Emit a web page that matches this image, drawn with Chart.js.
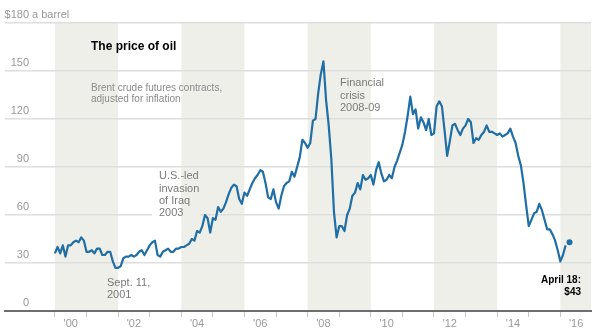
<!DOCTYPE html>
<html>
<head>
<meta charset="utf-8">
<script src="https://cdn.jsdelivr.net/npm/chart.js@4.4.1/dist/chart.umd.min.js"></script>
<style>
    html, body { margin: 0; padding: 0; background: #fff; }
    #wrap { width: 596px; height: 332px; position: relative; }
</style>
</head>
<body>
<div id="wrap"><canvas id="oilChart"></canvas></div>
<script>
// monthly Brent price, inflation adjusted, Jan 2000 .. Mar 2016
var startYear = 2000;
var prices = [
    36, 40, 36, 41, 34, 41, 41, 43, 44, 43, 46, 44,
    37, 37, 38, 36, 39, 39, 35, 35, 37, 37, 31, 27,
    27, 28, 33, 34, 34, 35, 34, 35, 37, 38, 35, 38,
    41, 43, 44, 35, 34, 37, 38, 39, 37, 37, 39, 39,
    40, 40, 41, 42, 45, 44, 50, 49, 53, 60, 58, 49,
    58, 57, 65, 62, 64, 68, 73, 77, 79, 78, 70, 67,
    74, 72, 76, 80, 83, 85, 88, 87, 80, 71, 70, 76,
    68, 64, 72, 78, 80, 81, 87, 84, 90, 96, 107, 105,
    102, 105, 119, 120, 136, 148, 156, 132, 116, 95, 62, 46,
    53, 53, 50, 60, 64, 72, 74, 80, 76, 85, 82, 83,
    85, 79, 88, 93, 86, 81, 82, 85, 83, 90, 94, 99,
    104, 112, 122, 134, 123, 126, 114, 121, 118, 113, 120, 110,
    111, 128, 131, 128, 113, 97, 106, 116, 117, 113, 110, 114,
    116, 120, 118, 105, 108, 107, 110, 112, 116, 112, 112, 111,
    110, 111, 109, 110, 111, 114, 109, 105, 97, 91, 80, 66,
    53, 57, 61, 62, 67, 63, 57, 51, 51, 48, 44, 38,
    31, 35, 41
];
var lastDate = 2016.29;
var lastPrice = 43;
var yTicks = [0, 30, 60, 90, 120, 150, 180];
var yearTicks = [2000, 2001, 2002, 2003, 2004, 2005, 2006, 2007, 2008, 2009, 2010, 2011, 2012, 2013, 2014, 2015, 2016];
var shadedYears = [[2000, 2002], [2004, 2006], [2008, 2010], [2012, 2014], [2016, 2017]];

var points = prices.map(function (v, i) {
    return {x: startYear + i / 12, y: v};
});

var font = '"Liberation Sans", Arial, Helvetica, sans-serif';

var bandsPlugin = {
    id: 'bands',
    beforeDraw: function (chart) {
        var ctx = chart.ctx;
        var xs = chart.scales.x;
        var area = chart.chartArea;
        ctx.save();
        ctx.fillStyle = '#efefea';
        shadedYears.forEach(function (b) {
            var x0 = xs.getPixelForValue(b[0]);
            var x1 = Math.min(xs.getPixelForValue(b[1]), area.right);
            ctx.fillRect(x0, area.top, x1 - x0, area.bottom - area.top);
        });
        ctx.restore();
    },
    beforeDatasetsDraw: function (chart) {
        var ctx = chart.ctx;
        var xs = chart.scales.x;
        var band = xs.getPixelForValue(2004);
        ctx.save();
        // box behind the Iraq note
        ctx.fillStyle = '#fff';
        ctx.fillRect(152, 169, band - 152, 50);
        ctx.fillStyle = '#efefea';
        ctx.fillRect(band, 169, 200 - band, 50);

        ctx.textBaseline = 'middle';
        ctx.textAlign = 'left';
        ctx.fillStyle = '#000';
        ctx.font = 'bold 12px ' + font;
        ctx.fillText('The price of oil', 91, 47);

        ctx.fillStyle = '#8a8a8a';
        ctx.font = '10px ' + font;
        ctx.fillText('Brent crude futures contracts,', 91, 88);
        ctx.fillText('adjusted for inflation', 91, 99);

        ctx.fillStyle = '#7a7a7a';
        ctx.font = '11px ' + font;
        ctx.fillText('Financial', 340, 83);
        ctx.fillText('crisis', 340, 95.5);
        ctx.fillText('2008-09', 340, 108);

        ctx.fillText('U.S.-led', 159, 176);
        ctx.fillText('invasion', 159, 188.5);
        ctx.fillText('of Iraq', 159, 200.5);
        ctx.fillText('2003', 159, 212.5);

        ctx.fillText('Sept. 11,', 107, 283);
        ctx.fillText('2001', 107, 294.5);

        ctx.textAlign = 'right';
        ctx.fillStyle = '#000';
        ctx.font = 'bold 10px ' + font;
        ctx.fillText('April 18:', 581, 280);
        ctx.fillText('$43', 581, 292);
        ctx.restore();
    },
    afterDraw: function (chart) {
        var ctx = chart.ctx;
        var ys = chart.scales.y;
        ctx.save();
        ctx.font = '11px ' + font;
        ctx.fillStyle = '#999';
        ctx.textBaseline = 'middle';
        yTicks.forEach(function (v) {
            var py = ys.getPixelForValue(v) - 8.5;
            ctx.textAlign = 'right';
            if (v === 180) {
                ctx.fillText('$' + v, 29, py);
                ctx.textAlign = 'left';
                ctx.fillText('a barrel', 32, py);
            } else {
                ctx.fillText(String(v), 29, py);
            }
        });
        ctx.restore();
    }
};

var area = document.getElementById("oilChart").getContext("2d");
var oilChart = new Chart(area, {
    type: 'line',
    data: {
        datasets: [{
            data: points,
            borderColor: '#1f6ea6',
            borderWidth: 2.2,
            pointRadius: 0,
            tension: 0,
            borderJoinStyle: 'round',
            fill: false
        }, {
            data: [{x: lastDate, y: lastPrice}],
            showLine: false,
            pointRadius: 3,
            pointBackgroundColor: '#1f6ea6',
            pointBorderColor: '#1f6ea6',
            pointBorderWidth: 0
        }]
    },
    options: {
        responsive: true,
        maintainAspectRatio: false,
        animation: false,
        layout: {
            padding: {left: 5, right: 5, top: 23, bottom: 0}
        },
        scales: {
            x: {
                type: 'linear',
                min: 1998.42,
                max: 2016.97,
                afterBuildTicks: function (axis) {
                    axis.ticks = yearTicks.map(function (v) { return {value: v}; });
                },
                afterFit: function (axis) {
                    axis.height = 21;
                },
                grid: {
                    drawOnChartArea: false,
                    drawTicks: true,
                    tickLength: 6,
                    color: '#c8c8c8',
                    lineWidth: 1
                },
                border: {
                    display: true,
                    color: '#6e6e6e',
                    width: 2
                },
                ticks: {
                    autoSkip: false,
                    maxRotation: 0,
                    padding: 0,
                    labelOffset: 15.8,
                    color: '#999',
                    font: {family: font, size: 11},
                    callback: function (value) {
                        return value % 2 === 0 ? "'" + String(value).slice(2) : '';
                    }
                }
            },
            y: {
                min: 0,
                max: 180,
                afterBuildTicks: function (axis) {
                    axis.ticks = yTicks.map(function (v) { return {value: v}; });
                },
                afterFit: function (axis) {
                    axis.width = 0;
                },
                grid: {
                    drawTicks: false,
                    color: function (c) {
                        return c.tick.value === 0 ? 'rgba(0,0,0,0)' : '#dedede';
                    },
                    lineWidth: 1.5
                },
                border: {
                    display: false
                },
                ticks: {
                    display: false
                }
            }
        },
        plugins: {
            legend: {
                display: false
            },
            tooltip: {
                enabled: false
            }
        }
    },
    plugins: [bandsPlugin]
});
</script>
</body>
</html>
